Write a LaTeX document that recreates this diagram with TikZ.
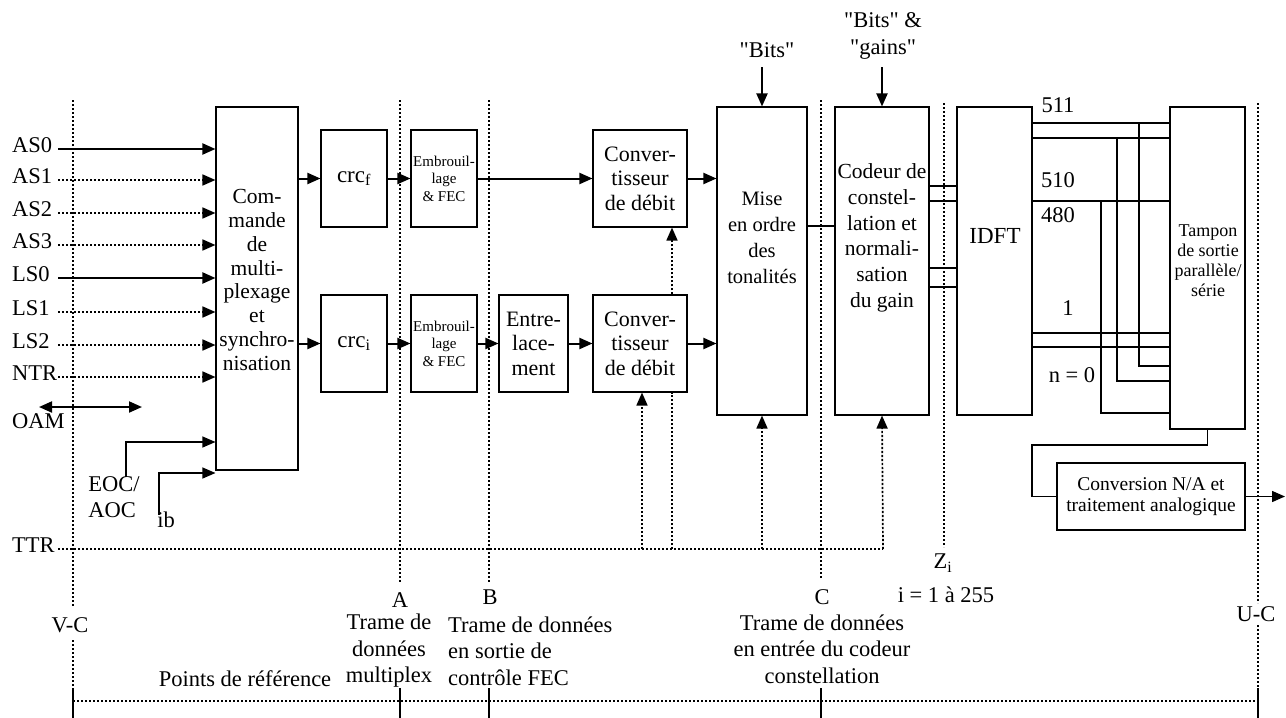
\documentclass[tikz,border=0pt]{standalone}
\usepackage{fontspec}
\setmainfont{Liberation Serif}
\newfontfamily\plainqfont{Liberation Serif}
\newcommand\strq{{\plainqfont\symbol{34}}}
\usetikzlibrary{arrows.meta}
\begin{document}
\begin{tikzpicture}[x=1pt,y=-1pt,
  box/.style={draw, line width=1.1pt, inner sep=0pt, align=center},
  thickln/.style={line width=2pt},
  thinln/.style={line width=1.1pt},
  arr/.style={-{Triangle[length=13pt,width=11pt]}},
  dotl/.style={line width=1.7pt, dash pattern=on 2.2pt off 1.8pt},
  lbl/.style={font=\fontsize{22.5}{26.5}\selectfont, inner sep=0pt, align=center},
  btxt/.style={font=\fontsize{22}{24.5}\selectfont, inner sep=0pt, align=center},
  small/.style={font=\fontsize{15}{17.5}\selectfont},
]
\useasboundingbox (0,0) rectangle (1286,718);

% ---------- reference lines ----------
\draw[dotl] (73,100) -- (73,607);
\draw[dotl] (73,640) -- (73,690);
\draw[dotl] (400,100) -- (400,583);
\draw[dotl] (489,100) -- (489,583);
\draw[dotl] (821,100) -- (821,578);
\draw[dotl] (944,103) -- (944,547);
\draw[dotl] (1258,103) -- (1258,603);
\draw[dotl] (1258,625) -- (1258,690);
\draw[dotl] (73,701) -- (1258,701);
\foreach \xx in {73,400,489,821,1258} \draw[thickln] (\xx,688) -- (\xx,718);

% ---------- boxes ----------
\node[box, minimum width=82pt, minimum height=363pt, fill=white] (mux) at (257,288.5) {};
\node[btxt, font=\fontsize{21.5}{23.8}\selectfont] (muxt) at (257,280) {Com-\\mande\\de\\multi-\\plexage\\et\\synchro-\\nisation};
\node[box, btxt, font=\fontsize{23}{25}\selectfont, minimum width=66pt, minimum height=97pt] (crcf) at (354,178.5) {crc\textsubscript{f}};
\node[box, btxt, font=\fontsize{23}{25}\selectfont, minimum width=66pt, minimum height=97pt] (crci) at (354,343.5) {crc\textsubscript{i}};
\node[box, small, minimum width=66pt, minimum height=97pt, fill=white] (emb1) at (444,178.5) {Embrouil-\\lage\\\& FEC};
\node[box, small, minimum width=66pt, minimum height=97pt, fill=white] (emb2) at (444,343.5) {Embrouil-\\lage\\\& FEC};
\node[box, btxt, minimum width=69pt, minimum height=97pt] (entre) at (533.5,343.5) {Entre-\\lace-\\ment};
\node[box, btxt, minimum width=94pt, minimum height=97pt] (conv1) at (640,178.5) {Conver-\\tisseur\\de débit};
\node[box, btxt, minimum width=94pt, minimum height=97pt] (conv2) at (640,343.5) {Conver-\\tisseur\\de débit};
\node[box, minimum width=90pt, minimum height=308pt] (mise) at (762,261) {};
\node[btxt, font=\fontsize{20.5}{26}\selectfont] (miset) at (762,238) {Mise\\en ordre\\des\\tonalités};
\node[box, minimum width=94pt, minimum height=308pt] (codeur) at (882,261) {};
\node[btxt, font=\fontsize{21.5}{25.7}\selectfont] (codeurt) at (882,238) {Codeur de\\constel-\\lation et\\normali-\\sation\\du gain};
\node[box, minimum width=75pt, minimum height=308pt] (idft) at (994.5,261) {};
\node[btxt, font=\fontsize{23}{25}\selectfont] (idftt) at (995,236) {IDFT};
\node[box, minimum width=75pt, minimum height=322pt, fill=white] (tampon) at (1207.5,268) {};
\node[btxt, font=\fontsize{18}{20}\selectfont] (tampont) at (1208,261) {Tampon\\de sortie\\parallèle/\\série};
\node[box, font=\fontsize{19.5}{21.5}\selectfont, minimum width=188pt, minimum height=67pt, fill=white] (cna) at (1151,496.5) {Conversion N/A et\\traitement analogique};

% ---------- inputs ----------
\foreach \nm/\yy/\sty in {AS0/149/thickln, AS1/180/dotl, AS2/213/dotl, AS3/245/dotl, LS0/278/thickln, LS1/312/dotl, LS2/345/dotl, NTR/377/dotl} {
  \node[lbl, anchor=base west] (l\nm) at (12,\yy+3) {\nm};
  \coordinate (s\nm) at (58,\yy);
  \draw[\sty,arr] (s\nm) -- (s\nm -| mux.west);
}
\node[lbl, anchor=base west] (lOAM) at (12,428) {OAM};
\coordinate (oa) at (39,407);
\coordinate (ob) at (142,407);
\draw[thickln,{Triangle[length=13pt,width=11pt]}-{Triangle[length=13pt,width=11pt]}] (oa) -- (ob);

\node[lbl, align=left] (leoc) at (114,497) {EOC/\\AOC};
\coordinate (e0) at (126,477);
\coordinate (e1) at (126,442);
\draw[thinln,arr] (e0) -- (e1) -- (e1 -| mux.west);
\node[lbl] (lib) at (166,520) {ib};
\coordinate (i0) at (159,515);
\coordinate (i1) at (159,473);
\draw[thinln,arr] (i0) -- (i1) -- (i1 -| mux.west);

% ---------- main chain ----------
\draw[thickln,arr] (mux.east |- crcf.west) -- (crcf.west);
\draw[thickln,arr] (crcf) -- (emb1);
\draw[thickln,arr] (emb1) -- (conv1);
\draw[thickln,arr] (conv1.east) -- (conv1.east -| mise.west);
\draw[thickln,arr] (mux.east |- crci.west) -- (crci.west);
\draw[thickln,arr] (crci) -- (emb2);
\draw[thickln,arr] (emb2) -- (entre);
\draw[thickln,arr] (entre) -- (conv2);
\draw[thickln,arr] (conv2.east) -- (conv2.east -| mise.west);
\coordinate (m226) at (0,226);
\draw[thickln] (mise.east |- m226) -- (codeur.west |- m226);
\foreach \yy in {186,201,268,287} {
  \coordinate (cy) at (0,\yy);
  \draw[thickln] (codeur.east |- cy) -- (idft.west |- cy);
}
\foreach \yy in {123,138,201,333,347} {
  \coordinate (iy) at (0,\yy);
  \draw[thickln] (idft.east |- iy) -- (tampon.west |- iy);
}
\foreach \xx/\ya/\yb in {1139/123/366, 1117/138/381, 1101/201/413} {
  \coordinate (pa) at (\xx,\ya);
  \coordinate (pb) at (\xx,\yb);
  \draw[thinln] (pa) -- (pb) -- (pb -| tampon.west);
}
\node[lbl] (n511) at (1058,105) {511};
\node[lbl] (n510) at (1058,180) {510};
\node[lbl] (n480) at (1058,215) {480};
\node[lbl] (n1) at (1068,308) {1};
\node[lbl] (n0) at (1072,375) {n = 0};

\coordinate (k1) at (1208,445);
\coordinate (k2) at (1032,445);
\draw[thinln] (tampon.south) -- (tampon.south |- k1) -- (k2) -- (k2 |- cna.west) -- (cna.west);
\coordinate (out) at (1285,497);
\draw[line width=1.5pt,arr] (cna.east) -- (cna.east -| out);

% ---------- top inputs ----------
\node[lbl] (bits) at (767,50) {\strq Bits\strq};
\coordinate (b0) at (762,67);
\draw[thickln,arr] (b0) -- (mise.north);
\node[lbl] (bitsg) at (883,36) {\strq Bits\strq{} \&\\\strq gains\strq};
\coordinate (g0) at (882,67);
\draw[thickln,arr] (g0) -- (codeur.north);

% ---------- TTR ----------
\node[lbl, anchor=base west] (lTTR) at (12,552) {TTR};
\coordinate (ttr0) at (58,549);
\coordinate (ttr1) at (883,549);
\draw[dotl] (ttr0) -- (ttr1);
\coordinate (v1) at (642,549);
\draw[dotl,arr] (v1) -- (v1 |- conv2.south);
\coordinate (v2) at (672,549);
\draw[dotl] (v2) -- (v2 |- conv2.south);
\draw[dotl,arr] (v2 |- conv2.north) -- (v2 |- conv1.south);
\draw[dotl,arr] (mise.south |- ttr1) -- (mise.south);
\draw[dotl,arr] (ttr1) -- (codeur.south);

% ---------- bottom labels ----------
\node[lbl] (lVC) at (70,625) {V-C};
\node[lbl] (lA) at (400,600) {A};
\node[lbl] (lB) at (490,597) {B};
\node[lbl] (tA) at (389,651) {Trame de\\données\\multiplex};
\node[lbl, align=left, anchor=west] (tB) at (448,651) {Trame de données\\en sortie de\\contrôle FEC};
\node[lbl] (pref) at (245,679) {Points de référence};
\node[lbl] (lC) at (822,597) {C};
\node[lbl] (tC) at (822,649) {Trame de données\\en entrée du codeur\\constellation};
\node[lbl] (lZ) at (943,563) {Z\textsubscript{i}};
\node[lbl] (lZi) at (946,595) {i = 1 à 255};
\node[lbl] (lUC) at (1256,614) {U-C};
\end{tikzpicture}
\end{document}
